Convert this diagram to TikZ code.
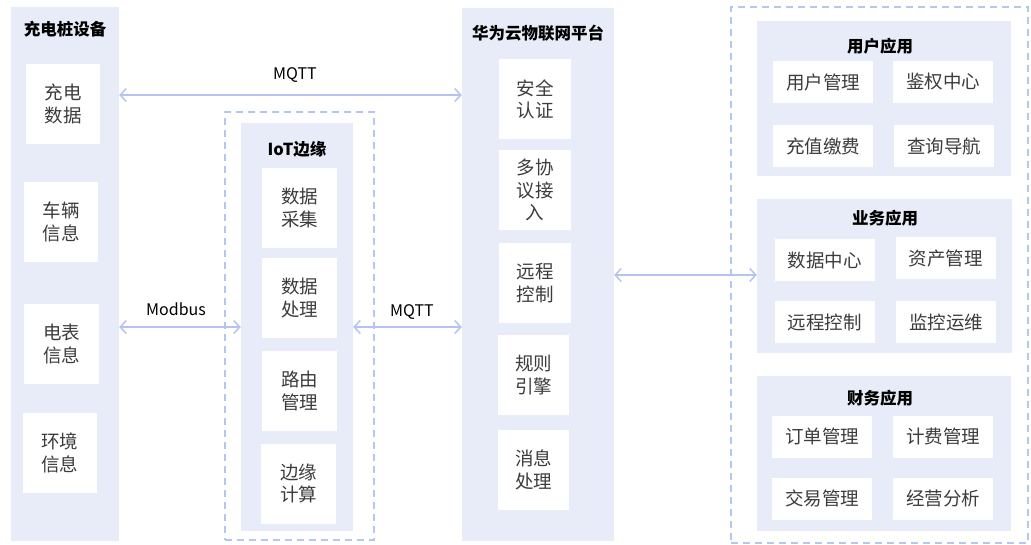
\documentclass[tikz,border=0pt]{standalone}
\usepackage{fontspec}
\setmainfont{Noto Sans CJK SC}
\usetikzlibrary{arrows.meta}
\definecolor{panelc}{HTML}{E8ECF8}
\definecolor{dashc}{HTML}{B4C6F2}
\definecolor{arrc}{HTML}{B4C3F4}
\definecolor{txtc}{HTML}{3C3C3C}
\tikzset{
  panel/.style={fill=panelc, draw=none, inner sep=0pt},
  wbox/.style={fill=white, draw=none, inner sep=0pt, align=center, text=txtc,
    font=\fontsize{18.5}{22.5}\selectfont},
  hbox/.style={wbox, minimum width=100pt, minimum height=42pt},
  vbox/.style={wbox, minimum height=80pt},
  ttl/.style={font=\bfseries\fontsize{16.5}{19}\selectfont, text=black, inner sep=0pt},
  dbox/.style={draw=dashc, dash pattern=on 7pt off 5pt, line width=1.5pt, fill=none, inner sep=0pt},
  arr/.style={draw=arrc, line width=1.5pt, {Straight Barb[length=6pt,width=13pt]}-{Straight Barb[length=6pt,width=13pt]}},
  lbl/.style={font=\fontsize{16}{18}\selectfont, text=black, inner sep=0pt}
}
\begin{document}
\begin{tikzpicture}[x=1pt,y=-1pt]
\useasboundingbox (0,0) rectangle (1031,545);
% left panel
\node[panel, minimum width=108pt, minimum height=534pt] (leftp) at (65,274) {};
\node[ttl] (lt) at (65,29) {充电桩设备};
\node[vbox, minimum width=74pt] (l1) at (63,104) {充电\\数据};
\node[vbox, minimum width=74pt] (l2) at (61,222) {车辆\\信息};
\node[vbox, minimum width=75pt] (l3) at (61.5,344) {电表\\信息};
\node[vbox, minimum width=74pt] (l4) at (60,453) {环境\\信息};
% IoT edge
\node[dbox, minimum width=149pt, minimum height=428pt] (iotd) at (299.5,326) {};
\node[panel, minimum width=112pt, minimum height=408pt] (iotp) at (297,327) {};
\node[ttl] (it) at (297,149) {IoT边缘};
\node[vbox, minimum width=75pt] (i1) at (299.5,208) {数据\\采集};
\node[vbox, minimum width=75pt] (i2) at (299.5,298) {数据\\处理};
\node[vbox, minimum width=75pt] (i3) at (299.5,391) {路由\\管理};
\node[vbox, minimum width=75pt] (i4) at (298.5,483.5) {边缘\\计算};
% Huawei
\node[panel, minimum width=152pt, minimum height=533pt] (hw) at (538,274.5) {};
\node[ttl] (ht) at (538,33) {华为云物联网平台};
\node[vbox, minimum width=72pt] (h1) at (535,99.5) {安全\\认证};
\node[vbox, minimum width=72pt] (h2) at (535,190) {多协\\议接\\入};
\node[vbox, minimum width=72pt] (h3) at (535,283) {远程\\控制};
\node[vbox, minimum width=71pt] (h4) at (533.5,375) {规则\\引擎};
\node[vbox, minimum width=71pt] (h5) at (533.5,470) {消息\\处理};
% right
\node[dbox, minimum width=297pt, minimum height=536pt] (rd) at (879.5,275) {};
\node[panel, minimum width=254pt, minimum height=155pt] (ua) at (884,98.5) {};
\node[ttl] (uat) at (880,46) {用户应用};
\node[hbox] (u1) at (823,82) {用户管理};
\node[hbox] (u2) at (943,82) {鉴权中心};
\node[hbox] (u3) at (823,146.5) {充值缴费};
\node[hbox] (u4) at (944,146.5) {查询导航};
\node[panel, minimum width=255pt, minimum height=154pt] (ba) at (884.5,276) {};
\node[ttl] (bat) at (885,218) {业务应用};
\node[hbox] (b1) at (824.5,260.5) {数据中心};
\node[hbox] (b2) at (945.5,258.5) {资产管理};
\node[hbox] (b3) at (824.5,322.5) {远程控制};
\node[hbox] (b4) at (946,322.5) {监控运维};
\node[panel, minimum width=254pt, minimum height=155pt] (fa) at (884,453.5) {};
\node[ttl] (fat) at (880,398) {财务应用};
\node[hbox] (f1) at (822,436.5) {订单管理};
\node[hbox] (f2) at (943,436.5) {计费管理};
\node[hbox] (f3) at (822,498.5) {交易管理};
\node[hbox] (f4) at (943,498.5) {经营分析};
% arrows
\draw[arr] (leftp.east|-0,95) -- (hw.west|-0,95);
\node[lbl] (m1) at (295,75) {MQTT};
\draw[arr] (leftp.east|-0,327) -- (iotp.west|-0,327);
\node[lbl] (m2) at (176,309) {Modbus};
\draw[arr] (iotp.east|-0,327) -- (hw.west|-0,327);
\node[lbl] (m3) at (412,312) {MQTT};
\draw[arr] (hw.east|-0,275) -- (ba.west|-0,275);
\end{tikzpicture}
\end{document}
